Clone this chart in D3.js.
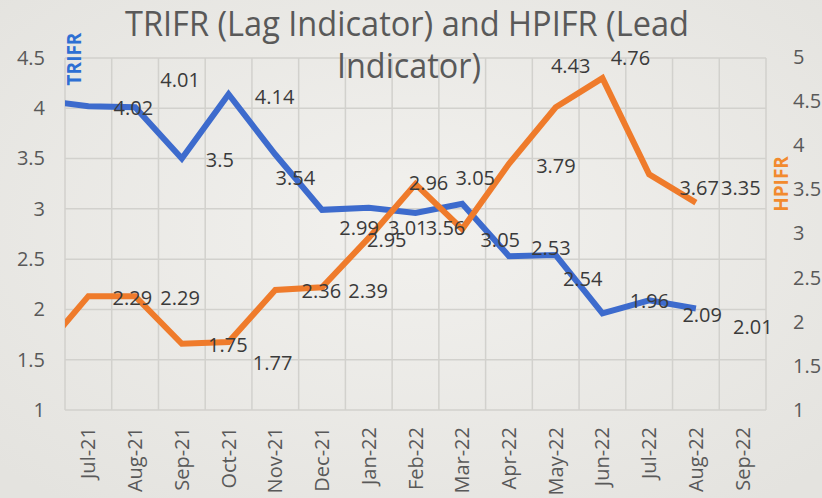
<!DOCTYPE html>
<html>
<head>
<meta charset="utf-8">
<script src="https://cdn.jsdelivr.net/npm/d3@7"></script>
<style>
  body { margin: 0; background: #ecebe7; }
  svg { display: block; font-family: "Open Sans", sans-serif; }
</style>
</head>
<body>
<div id="chart"></div>
<script>
"use strict"

// x categories (tick labels)
let months = ["Jul-21", "Aug-21", "Sep-21", "Oct-21", "Nov-21", "Dec-21", "Jan-22",
              "Feb-22", "Mar-22", "Apr-22", "May-22", "Jun-22", "Jul-22", "Aug-22", "Sep-22"];

// values Jul-21 .. Aug-22 (Sep-22 has no value yet)
let trifr = [4.02, 4.01, 3.5, 4.14, 3.54, 2.99, 3.01, 2.96, 3.05, 2.53, 2.54, 1.96, 2.09, 2.01];
let hpifr = [2.29, 2.29, 1.75, 1.77, 2.36, 2.39, 2.95, 3.56, 3.05, 3.79, 4.43, 4.76, 3.67, 3.35];

// Jun-21 values, only seen as the line coming in from the left edge
let trifrJun21 = 4.08;
let hpifrJun21 = 1.67;

let leftTicks = [1, 1.5, 2, 2.5, 3, 3.5, 4, 4.5];
let rightTicks = [1, 1.5, 2, 2.5, 3, 3.5, 4, 4.5, 5];

// where Excel put the data labels, relative to the point [dx, dy]
let trifrLabelNudge = [[45, 2], [45, -27], [38, 1], [46, 3], [20, 23], [37, 18], [39, 20],
                       [13, -30], [38, 36], [42, -8], [27, 24], [47, -12], [53, 15], [57, 19]];
let hpifrLabelNudge = [[44, 2], [45, 2], [46, 1], [44, 21], [46, 1], [46, 4], [18, 2],
                       [30, 44], [13, -51], [47, 2], [15, -41], [28, -20], [50, 14], [45, -15]];

let width = 822, height = 498;
let plot = { left: 65, right: 766, top: 58, bottom: 410 };

let svg = d3.select("#chart").append("svg")
    .attr("width", width)
    .attr("height", height);

// slightly lighter paper in the middle, like the photo
let grad = svg.append("defs").append("radialGradient")
    .attr("id", "paper")
    .attr("cx", "50%").attr("cy", "45%").attr("r", "70%");
grad.append("stop").attr("offset", "0%").attr("stop-color", "#f2f1ee");
grad.append("stop").attr("offset", "100%").attr("stop-color", "#e4e3df");

svg.append("rect")
    .attr("width", width)
    .attr("height", height)
    .attr("fill", "url(#paper)");

svg.select("defs").append("clipPath")
    .attr("id", "plotClip")
    .append("rect")
    .attr("x", plot.left)
    .attr("y", 0)
    .attr("width", plot.right - plot.left + 20)
    .attr("height", height);

let x = d3.scaleBand()
    .domain(months)
    .range([plot.left, plot.right]);

let xMid = function (m) { return x(m) + x.bandwidth() / 2; };

let yLeft = d3.scaleLinear()
    .domain([1, 4.5])
    .range([plot.bottom, plot.top]);

let yRight = d3.scaleLinear()
    .domain([1, 5])
    .range([plot.bottom, plot.top - 1]);

// gridlines
let grid = svg.append("g")
    .attr("stroke", "#d2d1cd")
    .attr("stroke-width", 1.5);

grid.selectAll("line.h")
    .data(leftTicks)
    .join("line")
    .attr("class", "h")
    .attr("x1", plot.left)
    .attr("x2", plot.right)
    .attr("y1", d => yLeft(d))
    .attr("y2", d => yLeft(d));

grid.selectAll("line.v")
    .data(months.concat(["end"]))
    .join("line")
    .attr("class", "v")
    .attr("x1", (d, i) => plot.left + i * x.step())
    .attr("x2", (d, i) => plot.left + i * x.step())
    .attr("y1", plot.top)
    .attr("y2", plot.bottom);

// left axis
let leftAxis = svg.append("g")
    .attr("transform", "translate(" + (plot.left - 20) + ",0)")
    .call(d3.axisLeft(yLeft).tickValues(leftTicks).tickSize(0).tickFormat(d3.format("")));

// right axis
let rightAxis = svg.append("g")
    .attr("transform", "translate(" + (plot.right + 27) + ",0)")
    .call(d3.axisRight(yRight).tickValues(rightTicks).tickSize(0).tickFormat(d3.format("")));

// x axis, labels turned upright
let bottomAxis = svg.append("g")
    .attr("transform", "translate(0," + (plot.bottom + 17) + ")")
    .call(d3.axisBottom(x).tickSize(0));

bottomAxis.selectAll("text")
    .attr("transform", "rotate(-90)")
    .attr("text-anchor", "end")
    .attr("dx", 0)
    .attr("dy", "0.35em")
    .attr("x", 0)
    .attr("y", 0);

[leftAxis, rightAxis, bottomAxis].forEach(function (a) {
    a.select(".domain").remove();
    a.selectAll("text")
        .attr("font-family", "Open Sans, sans-serif")
        .attr("font-size", 20)
        .attr("fill", "#595959");
});
leftAxis.selectAll("text").attr("x", 0);
rightAxis.selectAll("text").attr("x", 0);

// lines
let lineLeft = d3.line()
    .x(d => d.x)
    .y(d => yLeft(d.v));

let lineRight = d3.line()
    .x(d => d.x)
    .y(d => yRight(d.v));

let trifrPts = [{ x: xMid(months[0]) - x.step(), v: trifrJun21 }]
    .concat(trifr.map((v, i) => ({ x: xMid(months[i]), v: v })));

let hpifrPts = [{ x: xMid(months[0]) - x.step(), v: hpifrJun21 }]
    .concat(hpifr.map((v, i) => ({ x: xMid(months[i]), v: v })));

let lines = svg.append("g")
    .attr("clip-path", "url(#plotClip)")
    .attr("fill", "none")
    .attr("stroke-width", 6)
    .attr("stroke-linejoin", "miter");

let trifrLine = lines.append("path")
    .attr("d", lineLeft(trifrPts))
    .attr("stroke", "#3d6bcd");

let hpifrLine = lines.append("path")
    .attr("d", lineRight(hpifrPts))
    .attr("stroke", "#ef7b2b");

// data labels
let labelFmt = d3.format("");

svg.append("g")
    .selectAll("text")
    .data(trifr)
    .join("text")
    .attr("x", (d, i) => xMid(months[i]) + trifrLabelNudge[i][0])
    .attr("y", (d, i) => yLeft(d) + trifrLabelNudge[i][1])
    .attr("dy", "0.35em")
    .attr("text-anchor", "middle")
    .attr("font-size", 20)
    .attr("fill", "#3a3a3a")
    .text(d => labelFmt(d));

svg.append("g")
    .selectAll("text")
    .data(hpifr)
    .join("text")
    .attr("x", (d, i) => xMid(months[i]) + hpifrLabelNudge[i][0])
    .attr("y", (d, i) => yRight(d) + hpifrLabelNudge[i][1])
    .attr("dy", "0.35em")
    .attr("text-anchor", "middle")
    .attr("font-size", 20)
    .attr("fill", "#3a3a3a")
    .text(d => labelFmt(d));

// axis titles
let trifrTitle = svg.append("text")
    .attr("transform", "translate(81,59) rotate(-90)")
    .attr("text-anchor", "middle")
    .attr("font-size", 19)
    .attr("font-weight", "bold")
    .attr("fill", "#2e6fd3")
    .text("TRIFR");

let hpifrTitle = svg.append("text")
    .attr("transform", "translate(788,184) rotate(-90)")
    .attr("text-anchor", "middle")
    .attr("font-size", 19)
    .attr("font-weight", "bold")
    .attr("fill", "#f28a2e")
    .text("HPIFR");

// chart title, two lines
let title1 = svg.append("text")
    .attr("x", 125)
    .attr("y", 36)
    .attr("font-size", 34)
    .attr("fill", "#595959")
    .attr("textLength", 564)
    .attr("lengthAdjust", "spacingAndGlyphs")
    .text("TRIFR (Lag Indicator) and HPIFR (Lead");

let title2 = svg.append("text")
    .attr("x", 337)
    .attr("y", 78)
    .attr("font-size", 34)
    .attr("fill", "#595959")
    .attr("textLength", 144)
    .attr("lengthAdjust", "spacingAndGlyphs")
    .text("Indicator)");
</script>
</body>
</html>
